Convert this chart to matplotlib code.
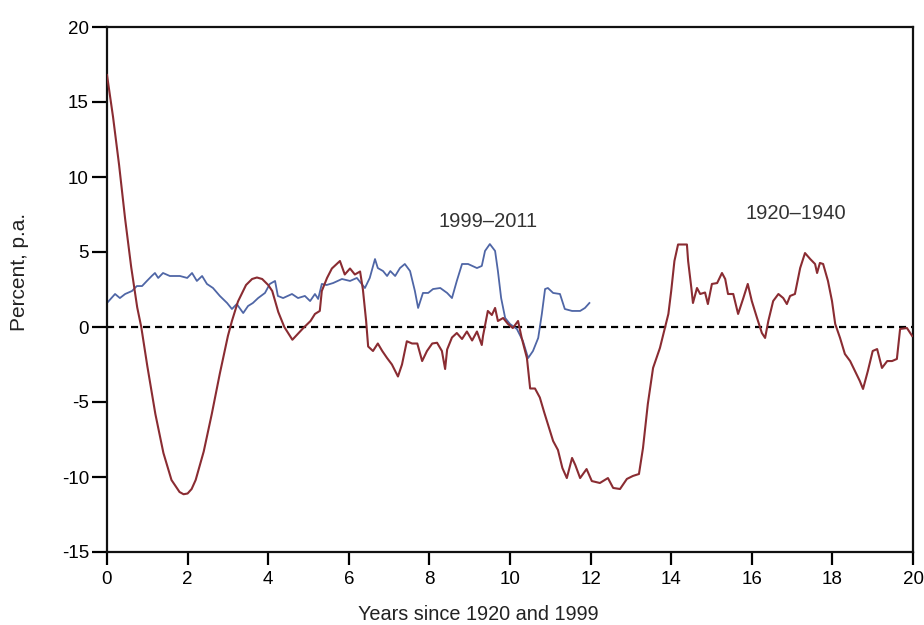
import matplotlib
matplotlib.use("Agg")
import matplotlib.pyplot as plt

plt.rcParams['font.family'] = ['Liberation Sans', 'DejaVu Sans']
plt.rcParams['axes.unicode_minus'] = False

# 1920-1940 series (years since 1920, percent)
red_x = [0.0, 0.15, 0.3, 0.45, 0.6, 0.75, 0.85, 1.0, 1.2, 1.4, 1.6, 1.8, 1.9, 2.0, 2.1, 2.2,
         2.4, 2.6, 2.8, 3.0, 3.1, 3.25, 3.45, 3.6, 3.72, 3.85, 4.0, 4.1, 4.25, 4.4, 4.6,
         4.86, 5.05, 5.16, 5.28, 5.33, 5.46, 5.58, 5.78, 5.9, 6.03, 6.15, 6.28, 6.35, 6.43,
         6.48, 6.6, 6.72, 6.83, 6.95, 7.07, 7.22, 7.32, 7.44, 7.57, 7.7, 7.82, 7.94, 8.07,
         8.19, 8.31, 8.39, 8.44, 8.56, 8.68, 8.81, 8.93, 9.06, 9.18, 9.3, 9.33, 9.45, 9.55,
         9.63, 9.7, 9.83, 9.95, 10.07, 10.2, 10.29, 10.42, 10.5, 10.62, 10.74, 10.85, 10.99,
         11.07, 11.19, 11.3, 11.41, 11.54, 11.62, 11.74, 11.9, 12.03, 12.23, 12.43, 12.56,
         12.73, 12.9, 13.05, 13.2, 13.3, 13.42, 13.55, 13.72, 13.85, 13.93, 14.0, 14.08,
         14.17, 14.39, 14.42, 14.5, 14.54, 14.64, 14.72, 14.84, 14.91, 15.01, 15.14, 15.26,
         15.34, 15.41, 15.54, 15.66, 15.79, 15.9, 16.0, 16.13, 16.25, 16.33, 16.41, 16.53,
         16.66, 16.78, 16.87, 16.95, 17.07, 17.2, 17.32, 17.45, 17.57, 17.62, 17.69, 17.77,
         17.89, 17.99, 18.07, 18.19, 18.31, 18.44, 18.56, 18.68, 18.76, 18.88, 19.0, 19.11,
         19.23, 19.36, 19.48, 19.6, 19.68, 19.85, 19.98]
red_y = [16.8, 14.0, 10.8, 7.2, 4.0, 1.3, 0.0, -2.6, -5.8, -8.4, -10.2, -11.0, -11.15, -11.1,
         -10.8, -10.2, -8.3, -5.8, -3.1, -0.6, 0.4, 1.7, 2.8, 3.2, 3.3, 3.2, 2.8, 2.4, 1.0,
         0.0, -0.85, -0.1, 0.4, 0.87, 1.07, 2.4, 3.27, 3.9, 4.4, 3.5, 3.9, 3.5, 3.7, 2.5, 0.4,
         -1.3, -1.6, -1.1, -1.6, -2.07, -2.5, -3.3, -2.5, -0.95, -1.1, -1.1, -2.27, -1.6, -1.1,
         -1.05, -1.6, -2.8, -1.5, -0.7, -0.4, -0.8, -0.3, -0.9, -0.3, -1.2, -0.6, 1.07, 0.8,
         1.27, 0.4, 0.6, 0.2, -0.07, 0.4, -0.73, -2.07, -4.1, -4.1, -4.7, -5.7, -6.9, -7.6,
         -8.2, -9.4, -10.07, -8.73, -9.2, -10.07, -9.47, -10.27, -10.4, -10.07, -10.73, -10.8,
         -10.13, -9.93, -9.8, -8.07, -5.13, -2.73, -1.4, 0.0, 0.87, 2.4, 4.4, 5.5, 5.5, 4.4,
         2.6, 1.6, 2.6, 2.2, 2.3, 1.53, 2.87, 2.93, 3.6, 3.2, 2.2, 2.2, 0.87, 1.93, 2.87, 1.73,
         0.6, -0.4, -0.73, 0.4, 1.73, 2.2, 1.93, 1.53, 2.07, 2.2, 3.93, 4.93, 4.53, 4.2, 3.6,
         4.27, 4.2, 3.07, 1.73, 0.2, -0.73, -1.8, -2.27, -2.93, -3.6, -4.13, -2.93, -1.6,
         -1.47, -2.73, -2.27, -2.27, -2.13, -0.13, -0.07, -0.6]

# 1999-2011 series (years since 1999, percent)
blue_x = [0.0, 0.2, 0.32, 0.45, 0.62, 0.74, 0.87, 0.99, 1.11, 1.19, 1.27, 1.39, 1.56, 1.81,
          1.99, 2.11, 2.23, 2.36, 2.48, 2.63, 2.8, 2.98, 3.1, 3.22, 3.38, 3.5, 3.62, 3.75,
          3.92, 4.04, 4.17, 4.24, 4.37, 4.59, 4.74, 4.91, 5.04, 5.16, 5.24, 5.33, 5.45, 5.61,
          5.83, 6.03, 6.2, 6.4, 6.52, 6.65, 6.72, 6.85, 6.95, 7.03, 7.15, 7.27, 7.39, 7.52,
          7.64, 7.72, 7.84, 7.97, 8.09, 8.27, 8.44, 8.56, 8.68, 8.81, 8.96, 9.18, 9.3, 9.38,
          9.5, 9.63, 9.7, 9.78, 9.88, 10.0, 10.17, 10.32, 10.45, 10.57, 10.7, 10.79, 10.87,
          10.94, 11.07, 11.24, 11.36, 11.54, 11.74, 11.86, 11.97]
blue_y = [1.6, 2.2, 1.93, 2.2, 2.4, 2.73, 2.73, 3.07, 3.4, 3.6, 3.27, 3.6, 3.4, 3.4, 3.27,
          3.6, 3.07, 3.4, 2.87, 2.6, 2.07, 1.6, 1.2, 1.53, 0.93, 1.4, 1.6, 1.93, 2.27, 2.87,
          3.07, 2.07, 1.93, 2.2, 1.93, 2.07, 1.73, 2.2, 1.87, 2.87, 2.8, 2.93, 3.2, 3.07, 3.27,
          2.6, 3.27, 4.53, 3.93, 3.73, 3.4, 3.73, 3.4, 3.93, 4.2, 3.73, 2.4, 1.27, 2.27, 2.27,
          2.53, 2.6, 2.27, 1.93, 3.07, 4.2, 4.2, 3.93, 4.07, 5.07, 5.53, 5.07, 3.73, 1.93, 0.6,
          0.2, -0.13, -0.93, -2.07, -1.6, -0.73, 0.87, 2.53, 2.6, 2.27, 2.2, 1.2, 1.07, 1.07,
          1.27, 1.6]

x_ticks = [0, 2, 4, 6, 8, 10, 12, 14, 16, 18, 20]
y_ticks = [-15, -10, -5, 0, 5, 10, 15, 20]

fig = plt.figure(figsize=(9.24, 6.25), dpi=100)
ax = fig.add_axes([107/924, 1-552/625, (913-107)/924, (552-27)/625])

ax.axhline(0, color='black', lw=1.6, ls=(0, (3.2, 2.2)), zorder=1)
ax.plot(blue_x, blue_y, color='#4f66a6', lw=1.3, zorder=2)
ax.plot(red_x, red_y, color='#8a2c32', lw=1.5, zorder=3)

ax.set_xlim(0, 20)
ax.set_ylim(-15, 20)
ax.set_xticks(x_ticks)
ax.set_yticks(y_ticks)
ax.tick_params(direction='out', length=9, width=1.6, labelsize=13.5, colors='black')
ax.tick_params(axis='x', pad=5)
ax.tick_params(axis='y', length=11, pad=2)
for s in ax.spines.values():
    s.set_linewidth(1.6)
    s.set_color('#111111')

ax.text(9.45, 7.05, '1999–2011', ha='center', va='center', fontsize=14.5, color='#333333')
ax.text(17.1, 7.55, '1920–1940', ha='center', va='center', fontsize=14.5, color='#333333')

fig.text(478/924, 1-614/625, 'Years since 1920 and 1999', ha='center', va='center',
         fontsize=14.3, color='#222222')
fig.text(20/924, 1-272/625, 'Percent, p.a.', ha='center', va='center', rotation=90,
         fontsize=15, color='#222222')

fig.savefig('out.png', dpi=100, facecolor='white')
